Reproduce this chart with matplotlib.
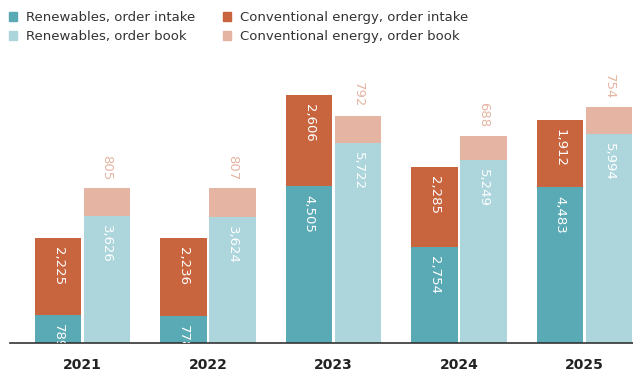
import matplotlib.pyplot as plt
from matplotlib.patches import Patch
import numpy as np

years = ['2021', '2022', '2023', '2024', '2025']
ren_intake = [789, 778, 4505, 2754, 4483]
conv_intake = [2225, 2236, 2606, 2285, 1912]
ren_book = [3626, 3624, 5722, 5249, 5994]
conv_book = [805, 807, 792, 688, 754]

c_ren_in = '#5aaab6'
c_conv_in = '#c8653f'
c_ren_bk = '#acd5dc'
c_conv_bk = '#e5b4a2'

plt.rcParams['font.family'] = ['DejaVu Sans']

fig = plt.figure(figsize=(6.33, 3.73), dpi=100)
W, H = 633, 373
ax = fig.add_axes([0, 30 / H, 1, 283 / H])

x = np.arange(len(years))
w = 0.367
off = 0.195


def fmt(v):
    return f'{v:,}'


ax.bar(x - off, ren_intake, w, color=c_ren_in)
ax.bar(x - off, conv_intake, w, bottom=ren_intake, color=c_conv_in)
ax.bar(x + off, ren_book, w, color=c_ren_bk)
ax.bar(x + off, conv_book, w, bottom=ren_book, color=c_conv_bk)

for i in range(len(years)):
    # labels inside bars, reading downward from segment top
    for xx, top, val in [(x[i] - off, ren_intake[i], ren_intake[i]),
                         (x[i] - off, ren_intake[i] + conv_intake[i], conv_intake[i]),
                         (x[i] + off, ren_book[i], ren_book[i])]:
        ax.annotate(fmt(val), (xx, top), xytext=(0, -6.5), textcoords='offset points',
                    rotation=-90, ha='center', va='top', color='white',
                    fontsize=9.5, annotation_clip=False, clip_on=True)
    ax.annotate(fmt(conv_book[i]), (x[i] + off, ren_book[i] + conv_book[i]),
                xytext=(0, 6), textcoords='offset points', rotation=-90,
                ha='center', va='bottom', color=c_conv_bk, fontsize=9.5)

x0 = -82.5 / 125.5
x1 = (633 - 82.5) / 125.5
ax.set_xlim(x0, x1)
ax.set_ylim(0, 283 / 0.0349)
ax.set_xticks(x)
ax.set_xticklabels(years, fontweight='bold', fontsize=10, color='#222222')
ax.tick_params(axis='x', length=0, pad=11)
ax.set_yticks([])
for s in ['top', 'right', 'left']:
    ax.spines[s].set_visible(False)
ax.spines['bottom'].set_color('#333333')
ax.spines['bottom'].set_linewidth(1.2)
ax.spines['bottom'].set_bounds((10 - 82.5) / 125.5, x1)
ax.patch.set_alpha(0)

handles = [Patch(color=c_ren_in), Patch(color=c_ren_bk),
           Patch(color=c_conv_in), Patch(color=c_conv_bk)]
labels = ['Renewables, order intake', 'Renewables, order book',
          'Conventional energy, order intake', 'Conventional energy, order book']
fig.legend(handles, labels, ncol=2, loc='upper left', bbox_to_anchor=(0.0, 0.995),
           frameon=False, fontsize=9.5, handlelength=0.6, handleheight=0.6,
           handletextpad=0.7, columnspacing=2.1, labelspacing=0.45,
           labelcolor='#333333', borderaxespad=0.3)

fig.savefig('out.png', dpi=100)
